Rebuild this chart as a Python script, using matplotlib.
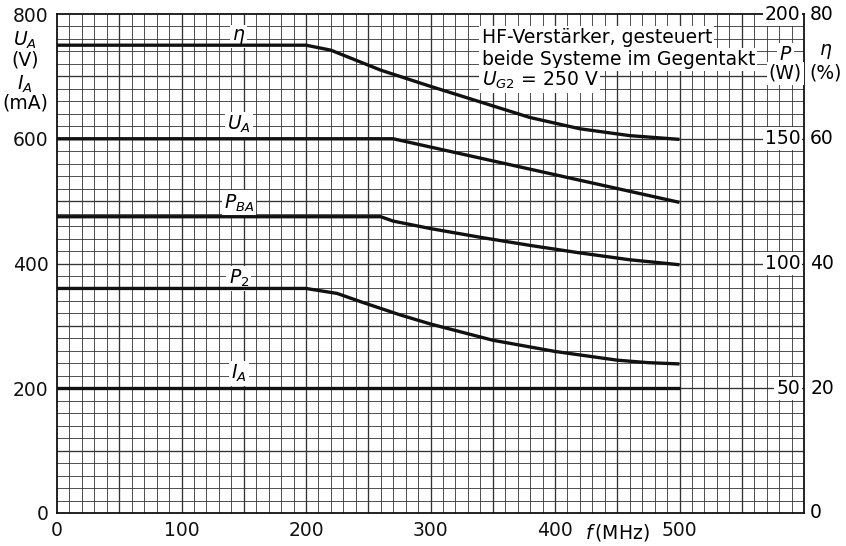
#!/usr/bin/env python3
import numpy as np
from matplotlib import pyplot as plt

# curves, all on the left scale (0..800)
f_eta = [0, 200, 220, 260, 300, 340, 380, 420, 460, 500]
eta = [750, 750, 742, 710, 684, 659, 634, 616, 605, 599]

f_ua = [0, 270, 500]
ua = [600, 600, 498]

f_pba = [0, 260, 270, 300, 340, 380, 420, 460, 500]
pba = [475, 475, 468, 456, 442, 429, 417, 406, 398]

f_p2 = [0, 200, 225, 245, 275, 300, 350, 400, 450, 475, 500]
p2 = [360, 360, 352, 338, 318, 303, 277, 259, 245, 241, 239]

f_ia = [0, 500]
ia = [200, 200]

x_ticks = [0, 100, 200, 300, 400, 500]
y_ticks = [0, 200, 400, 600, 800]
p_ticks = [50, 100, 150, 200]
eta_ticks = [20, 40, 60, 80]

W, H = 846, 546
plt.rcParams['font.family'] = ['DejaVu Sans']
plt.rcParams['mathtext.fontset'] = 'dejavusans'

fig = plt.figure(figsize=(W / 100, H / 100), dpi=100)
ax = fig.add_axes([57 / W, 1 - 513 / H, (804 - 57) / W, (513 - 14) / H])
ax.set_xlim(0, 600)
ax.set_ylim(0, 800)

# graph paper
for v in np.arange(10, 600, 10):
    lw = 0.95 if v % 50 == 0 else 0.6
    ax.axvline(v, color='#333333', lw=lw, zorder=1)
for v in np.arange(20, 800, 20):
    lw = 0.95 if v % 100 == 0 else 0.6
    ax.axhline(v, color='#333333', lw=lw, zorder=1)
for s in ax.spines.values():
    s.set_linewidth(1.3)
    s.set_color('#111111')

for fx, fy in [(f_eta, eta), (f_ua, ua), (f_pba, pba), (f_p2, p2), (f_ia, ia)]:
    ax.plot(fx, fy, color='#111111', lw=2.4, zorder=3, solid_capstyle='butt')

fs = 13.5
box = dict(facecolor='white', edgecolor='none', pad=1.5)
labels = [(r'$\eta$', 764), (r'$U_A$', 623), (r'$P_{BA}$', 497),
          (r'$P_2$', 376), (r'$I_A$', 224)]
for t, yv in labels:
    ax.text(146, yv, t, fontsize=fs, ha='center', va='center', bbox=box, zorder=2.5)

# header text
ax.text(341, 762, 'HF-Verstärker, gesteuert', fontsize=fs, ha='left', va='center',
        bbox=box, zorder=4)
ax.text(341, 727, 'beide Systeme im Gegentakt', fontsize=fs, ha='left', va='center',
        bbox=box, zorder=4)
ax.text(341, 693, r'$U_{G2}$ = 250 V', fontsize=fs, ha='left', va='center',
        bbox=box, zorder=4)

# axes ticks
ax.set_xticks(x_ticks)
ax.set_yticks(y_ticks)
ax.tick_params(length=0, labelsize=fs, colors='#111111')
ax.tick_params(axis='x', pad=6)
ax.tick_params(axis='y', pad=6)
ax.text(450, -31, r'$f\,$(MHz)', fontsize=fs, ha='center', va='center', clip_on=False)

# right scales
for p, e in zip(p_ticks, eta_ticks):
    yv = p * 4
    ax.text(597, yv, str(p), fontsize=fs, ha='right', va='center', bbox=box, zorder=4)
    ax.text(605, yv, str(e), fontsize=fs, ha='left', va='center', clip_on=False)
ax.text(605, 0, '0', fontsize=fs, ha='left', va='center', clip_on=False)
ax.text(585, 735, r'$P$', fontsize=fs, ha='center', va='center', bbox=box, zorder=4)
ax.text(585, 705, '(W)', fontsize=fs, ha='center', va='center', bbox=box, zorder=4)
ax.text(617, 740, r'$\eta$', fontsize=fs, ha='center', va='center', clip_on=False)
ax.text(617, 705, '(%)', fontsize=fs, ha='center', va='center', clip_on=False)

# left axis titles
fig.text(25 / W, 1 - 40 / H, r'$U_A$', fontsize=fs, ha='center', va='center')
fig.text(25 / W, 1 - 60 / H, '(V)', fontsize=fs, ha='center', va='center')
fig.text(25 / W, 1 - 84 / H, r'$I_A$', fontsize=fs, ha='center', va='center')
fig.text(25 / W, 1 - 103 / H, '(mA)', fontsize=fs, ha='center', va='center')

fig.savefig('out.png', dpi=100)
